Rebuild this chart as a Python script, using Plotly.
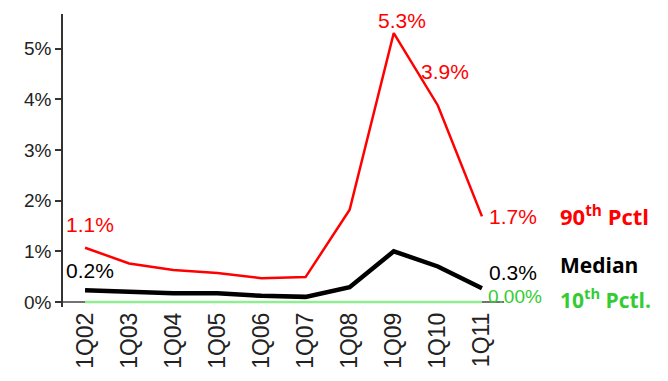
import plotly.graph_objects as go

quarters = ["1Q02", "1Q03", "1Q04", "1Q05", "1Q06", "1Q07", "1Q08", "1Q09", "1Q10", "1Q11"]
p90 = [1.07, 0.76, 0.63, 0.57, 0.47, 0.49, 1.82, 5.31, 3.88, 1.69]
median = [0.23, 0.20, 0.17, 0.17, 0.12, 0.10, 0.29, 1.00, 0.70, 0.27]
p10 = [0.0, 0.0, 0.0, 0.0, 0.0, 0.0, 0.0, 0.0, 0.0, 0.0]
ytick_vals = [0, 1, 2, 3, 4, 5]
ytick_text = ["0%", "1%", "2%", "3%", "4%", "5%"]

RED = "#ff0000"
BLACK = "#000000"
GREEN_LINE = "#90ee90"
GREEN_TXT = "#33cc33"

fig = go.Figure()
xs = list(range(len(quarters)))
fig.add_trace(go.Scatter(x=xs, y=p10, mode="lines", line=dict(color=GREEN_LINE, width=2.5), cliponaxis=False))
fig.add_trace(go.Scatter(x=xs, y=median, mode="lines", line=dict(color=BLACK, width=4.5), cliponaxis=False))
fig.add_trace(go.Scatter(x=xs, y=p90, mode="lines", line=dict(color=RED, width=2.5), cliponaxis=False))

numfont = "Liberation Sans, Arial, sans-serif"
anns = []
def lab(i, series, text, color, xshift, yshift, xanchor="center", size=21):
    anns.append(dict(x=xs[i], y=series[i], xref="x", yref="y", text=text, showarrow=False,
                     font=dict(family=numfont, size=size, color=color), xshift=xshift, yshift=yshift,
                     xanchor=xanchor, yanchor="middle"))

lab(0, p90, "1.1%", RED, 5, 23)
lab(7, p90, "5.3%", RED, 8, 13)
lab(8, p90, "3.9%", RED, -19, 34, "left")
lab(9, p90, "1.7%", RED, 5, 0, "left")
lab(0, median, "0.2%", BLACK, -21, 20, "left")
lab(9, median, "0.3%", BLACK, 5, 16, "left")
lab(9, p10, "0.00%", GREEN_TXT, 4, 5, "left", 19)

legfont = "Open Sans, Lato, sans-serif"
def leg(series, text, color, yshift, size=22):
    anns.append(dict(x=xs[9], y=series[9], xref="x", yref="y", text=text, showarrow=False,
                     font=dict(family=legfont, size=size, color=color), xshift=76, yshift=yshift,
                     xanchor="left", yanchor="middle"))

leg(p90, "<b>90<sup>th</sup> Pctl</b>", RED, 1)
leg(median, "<b>Median</b>", BLACK, 23, 21)
leg(p10, "<b>10<sup>th</sup> Pctl.</b>", GREEN_TXT, 3, 21)

fig.update_layout(
    width=668, height=381,
    margin=dict(l=63, r=164, t=14, b=72),
    paper_bgcolor="white", plot_bgcolor="white",
    showlegend=False,
    annotations=anns,
    xaxis=dict(range=[-0.5, 9.5], tickvals=xs, ticktext=quarters, tickangle=-90,
               showgrid=False, showline=False, zeroline=False, ticks="",
               tickfont=dict(family=numfont, size=23, color="#222222")),
    yaxis=dict(range=[-0.1, 5.686], tickvals=ytick_vals, ticktext=ytick_text,
               showgrid=False, showline=True, linecolor="#333333", linewidth=1.5,
               zeroline=False, ticks="outside", ticklen=6, tickcolor="#333333", tickwidth=1.5,
               tickfont=dict(family=numfont, size=19, color="#222222")),
)
fig.add_shape(type="line", xref="paper", yref="y", x0=-0.015, x1=1, y0=0, y1=0,
              line=dict(color="#444444", width=1.5), layer="below")

fig.write_html("out.html")
